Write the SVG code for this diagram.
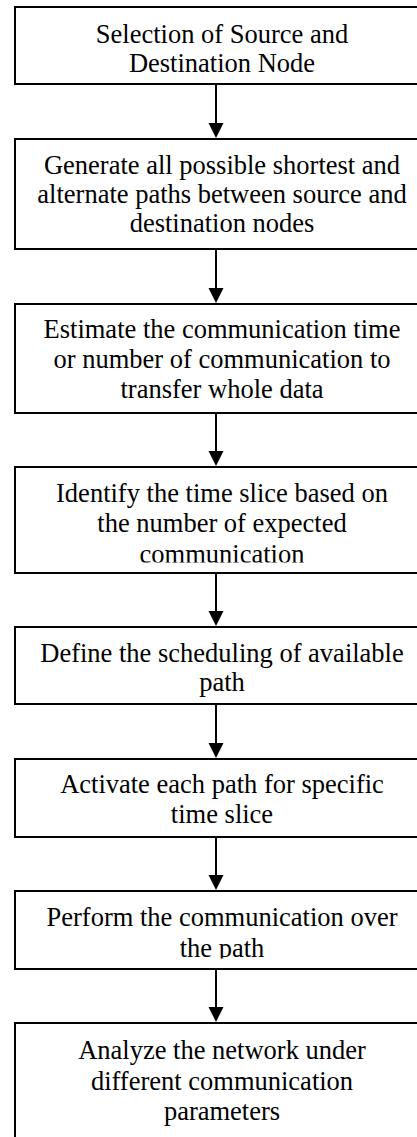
<svg xmlns="http://www.w3.org/2000/svg" width="417" height="1137" viewBox="0 0 417 1137">
<defs>
<style>
.box{fill:#fff;stroke:#000;stroke-width:2}
.t{font-family:"Liberation Serif","Times New Roman",serif;font-size:26.5px;fill:#000;text-anchor:middle}
.c{stroke:#000;stroke-width:2;fill:none}
.h{fill:#000;stroke:none}
</style>
<clipPath id="clip4"><rect x="0" y="467" width="440" height="95.5"/></clipPath>
<clipPath id="clip7"><rect x="0" y="891" width="440" height="67.5"/></clipPath>
</defs>
<rect width="417" height="1137" fill="#fff"/>
<g id="connectors">
<line class="c" x1="216" y1="84" x2="216" y2="124"/><polygon class="h" points="208.5,123 223.5,123 216,138"/>
<line class="c" x1="216" y1="249" x2="216" y2="289"/><polygon class="h" points="208.5,288 223.5,288 216,303"/>
<line class="c" x1="216" y1="413" x2="216" y2="452"/><polygon class="h" points="208.5,451 223.5,451 216,466"/>
<line class="c" x1="216" y1="573" x2="216" y2="612"/><polygon class="h" points="208.5,611 223.5,611 216,626"/>
<line class="c" x1="216" y1="704" x2="216" y2="744"/><polygon class="h" points="208.5,743 223.5,743 216,758"/>
<line class="c" x1="216" y1="837" x2="216" y2="876"/><polygon class="h" points="208.5,875 223.5,875 216,890"/>
<line class="c" x1="216" y1="969" x2="216" y2="1008"/><polygon class="h" points="208.5,1007 223.5,1007 216,1022"/>
</g>
<g id="n1"><rect class="box" x="15" y="7" width="415" height="77"/>
<text class="t" x="222" y="42.7">Selection of Source and</text>
<text class="t" x="222" y="71.7">Destination Node</text></g>
<g id="n2"><rect class="box" x="15" y="139" width="415" height="110"/>
<text class="t" x="222" y="174">Generate all possible shortest and</text>
<text class="t" x="222" y="203.3">alternate paths between source and</text>
<text class="t" x="222" y="232.3">destination nodes</text></g>
<g id="n3"><rect class="box" x="15" y="304" width="415" height="109"/>
<text class="t" x="222" y="338.3">Estimate the communication time</text>
<text class="t" x="222" y="368.3">or number of communication to</text>
<text class="t" x="222" y="398.3">transfer whole data</text></g>
<g id="n4"><rect class="box" x="15" y="467" width="415" height="106"/>
<g clip-path="url(#clip4)">
<text class="t" x="222" y="501.7">Identify the time slice based on</text>
<text class="t" x="222" y="531.7">the number of expected</text>
<text class="t" x="222" y="562.7">communication</text></g></g>
<g id="n5"><rect class="box" x="15" y="627" width="415" height="77"/>
<text class="t" x="222" y="661.7">Define the scheduling of available</text>
<text class="t" x="222" y="691">path</text></g>
<g id="n6"><rect class="box" x="15" y="759" width="415" height="78"/>
<text class="t" x="222" y="793.3">Activate each path for specific</text>
<text class="t" x="222" y="822.7">time slice</text></g>
<g id="n7"><rect class="box" x="15" y="891" width="415" height="78"/>
<g clip-path="url(#clip7)">
<text class="t" x="222" y="925.7">Perform the communication over</text>
<text class="t" x="222" y="957.3">the path</text></g></g>
<g id="n8"><rect class="box" x="15" y="1023" width="415" height="130"/>
<text class="t" x="222" y="1059">Analyze the network under</text>
<text class="t" x="222" y="1090">different communication</text>
<text class="t" x="222" y="1120">parameters</text></g>
</svg>
